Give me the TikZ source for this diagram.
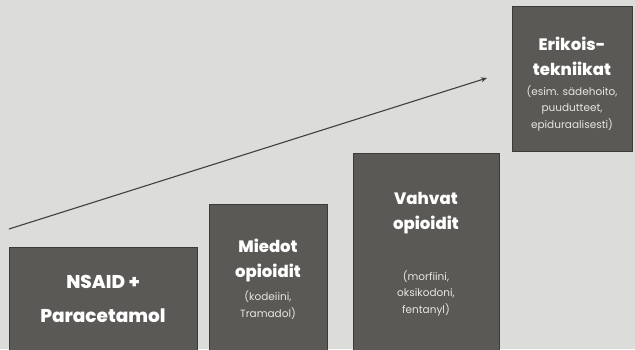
\documentclass[tikz,border=0pt]{standalone}
\usepackage{fontspec}
\setmainfont{Poppins}[BoldFont={Poppins ExtraBold}]
\newfontfamily\subfont{Poppins}
\usetikzlibrary{arrows.meta}
\definecolor{bgc}{HTML}{DCDCDA}
\definecolor{boxc}{HTML}{5B5955}
\definecolor{boxline}{HTML}{3C3B38}
\definecolor{subc}{HTML}{E6E6E2}
\tikzset{
  stepbox/.style={draw=boxline, line width=1pt, fill=boxc},
  head/.style={text=white, font=\bfseries\fontsize{16.5}{25}\selectfont, align=center, inner sep=0pt},
  bighead/.style={text=white, font=\bfseries\fontsize{18.5}{34}\selectfont, align=center, inner sep=0pt},
  sub/.style={text=subc, font=\subfont\fontsize{10.5}{16.5}\selectfont, align=center, inner sep=0pt},
  trend/.style={draw=black!75, line width=1.1pt, -{Stealth[length=6pt,width=5pt]}}
}
\begin{document}
\begin{tikzpicture}[x=1pt,y=1pt]
\useasboundingbox (0,0) rectangle (635,349);
\fill[bgc] (0,0) rectangle (635,349);
% boxes
\path[stepbox] (9,-5) rectangle (197,102);
\path[stepbox] (209,-5) rectangle (327,145);
\path[stepbox] (353,-5) rectangle (499,196);
\path[stepbox] (512,198) rectangle (632,342);
% arrow
\coordinate (trendA) at (9,120);
\coordinate (trendB) at (487,271);
\draw[trend] (trendA) -- (trendB);
% texts
\node[bighead] (h1) at (103,50) {NSAID +\\Paracetamol};
\node[head] (h2) at (268,88.5) {Miedot\\opioidit};
\node[sub] (s2) at (268,44) {(kodeiini,\\Tramadol)};
\node[head] (h3) at (426,135.5) {Vahvat\\opioidit};
\node[sub] (s3) at (426,56) {(morfiini,\\oksikodoni,\\fentanyl)};
\node[head] (h4) at (572,292.5) {Erikois-\\tekniikat};
\node[sub] (s4) at (572,241) {(esim. sädehoito,\\puudutteet,\\epiduraalisesti)};
\end{tikzpicture}
\end{document}
